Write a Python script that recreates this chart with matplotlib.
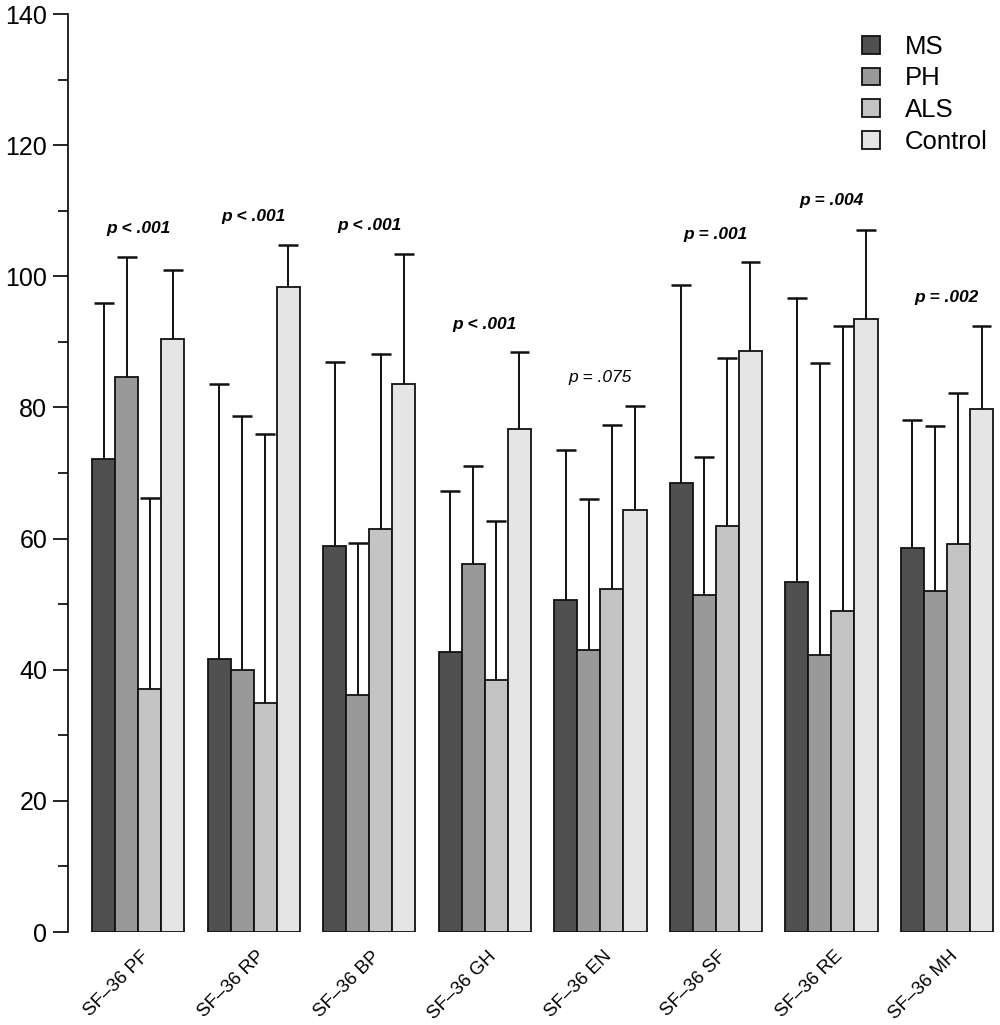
import numpy as np
import matplotlib
matplotlib.use('Agg')
import matplotlib.pyplot as plt
from matplotlib.patches import Patch
from matplotlib.ticker import MultipleLocator

plt.rcParams['font.family'] = ['Liberation Sans', 'DejaVu Sans']

# --- data ---
scales = ["SF–36 PF", "SF–36 RP", "SF–36 BP", "SF–36 GH",
          "SF–36 EN", "SF–36 SF", "SF–36 RE", "SF–36 MH"]
groups = ["MS", "PH", "ALS", "Control"]

ms_mean = [72.1, 41.7, 58.8, 42.7, 50.7, 68.5, 53.4, 58.6]
ph_mean = [84.7, 40.0, 36.1, 56.2, 43.0, 51.4, 42.3, 52.0]
als_mean = [37.0, 35.0, 61.4, 38.4, 52.3, 61.9, 48.9, 59.2]
ctl_mean = [90.4, 98.4, 83.6, 76.7, 64.3, 88.6, 93.5, 79.8]

ms_upper = [95.9, 83.6, 86.9, 67.3, 73.5, 98.7, 96.7, 78.1]
ph_upper = [102.9, 78.7, 59.3, 71.0, 66.0, 72.4, 86.8, 77.1]
als_upper = [66.2, 76.0, 88.2, 62.7, 77.3, 87.5, 92.4, 82.2]
ctl_upper = [101.0, 104.8, 103.4, 88.5, 80.2, 102.2, 107.1, 92.5]

p_labels = ["p < .001", "p < .001", "p < .001", "p < .001",
            "p = .075", "p = .001", "p = .004", "p = .002"]
p_ypos = [107.3, 109.2, 107.7, 92.7, 84.5, 106.4, 111.5, 96.8]
p_bold = [True, True, True, True, False, True, True, True]

# --- style ---
COLORS = ["#505050", "#999999", "#c4c4c4", "#e5e5e5"]
EDGE = "#111111"

means = [ms_mean, ph_mean, als_mean, ctl_mean]
uppers = [ms_upper, ph_upper, als_upper, ctl_upper]

fig = plt.figure(figsize=(10, 10.25), dpi=100)
ax = fig.add_axes([0.068, 0.0907, 0.932, 0.8956])

n = len(scales)
starts = 1 + 5 * np.arange(n)  # one bar-width gap between groups

for k in range(4):
    x = starts + k + 0.5
    m = np.array(means[k])
    u = np.array(uppers[k])
    # upper-only error bars, drawn behind bars
    ax.vlines(x, m, u, color=EDGE, lw=1.4, zorder=1)
    ax.hlines(u, x - 0.43, x + 0.43, color=EDGE, lw=1.8, zorder=1)
    ax.bar(x, m, width=1.0, color=COLORS[k], edgecolor=EDGE, lw=1.3, zorder=2)

centers = starts + 2
for c, lab, y, b in zip(centers, p_labels, p_ypos, p_bold):
    ax.text(c, y, lab, ha='center', va='center', fontsize=12.5, style='italic',
            fontweight='bold' if b else 'normal')

# x labels rotated
for c, lab in zip(centers, scales):
    ax.text(c + 0.1, -2.4, lab, rotation=45, ha='right', va='top',
            rotation_mode='anchor', fontsize=13.5)

ax.set_xlim(-0.04, 40.3)
ax.set_ylim(0, 140)
ax.yaxis.set_major_locator(MultipleLocator(20))
ax.yaxis.set_minor_locator(MultipleLocator(10))
ax.tick_params(axis='y', which='major', length=11, width=1.2, labelsize=18, pad=4)
ax.tick_params(axis='y', which='minor', length=7, width=1.2)
ax.set_xticks([])
for s in ['top', 'right', 'bottom']:
    ax.spines[s].set_visible(False)
ax.spines['left'].set_linewidth(1.2)

handles = [Patch(facecolor=c, edgecolor=EDGE, lw=1.3) for c in COLORS]
ax.legend(handles, groups, loc='upper right', bbox_to_anchor=(1.006, 0.997),
          frameon=False, fontsize=18.5, handlelength=0.7, handleheight=0.7,
          handletextpad=0.95, labelspacing=0.3, borderaxespad=0.3)

fig.savefig("out.png", dpi=100, facecolor='white')
